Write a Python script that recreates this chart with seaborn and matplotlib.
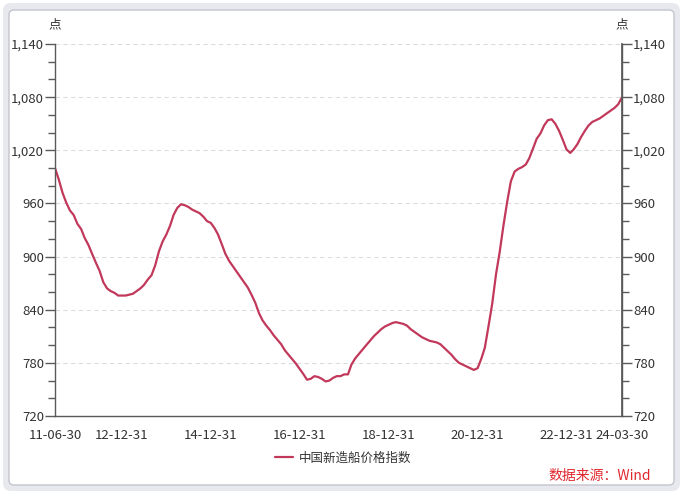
import matplotlib.pyplot as plt
import matplotlib.dates as mdates
import matplotlib.transforms as mtransforms
from matplotlib.patches import FancyBboxPatch
from matplotlib.ticker import FixedLocator, FuncFormatter, MultipleLocator
import seaborn as sns
import pandas as pd

# monthly points, 2011-06 .. 2024-03
months = pd.date_range('2011-06-30', '2024-03-31', freq='ME')
price_index = [
    1000, 987, 972, 961, 952, 947, 937, 931, 921, 913, 903, 893,   # 11-06 .. 12-05
    884, 871, 864, 861, 859, 856, 856, 856, 857, 858, 861, 864,    # 12-06 .. 13-05
    868, 874, 879, 890, 906, 917, 925, 935, 947, 955, 959, 958,    # 13-06 .. 14-05
    956, 953, 951, 949, 945, 940, 938, 932, 925, 914, 903, 895,    # 14-06 .. 15-05
    889, 883, 877, 871, 865, 857, 848, 836, 828, 822, 817, 811,    # 15-06 .. 16-05
    806, 801, 794, 789, 784, 779, 773, 767, 761, 762, 765, 764,    # 16-06 .. 17-05
    762, 759, 760, 763, 765, 765, 767, 767, 778, 785, 790, 795,    # 17-06 .. 18-05
    800, 805, 810, 814, 818, 821, 823, 825, 826, 825, 824, 822,    # 18-06 .. 19-05
    818, 815, 812, 809, 807, 805, 804, 803, 801, 797, 793, 789,    # 19-06 .. 20-05
    784, 780, 778, 776, 774, 772, 774, 785, 797, 822, 847, 880,    # 20-06 .. 21-05
    905, 935, 962, 985, 996, 999, 1001, 1004, 1011, 1022, 1033, 1039,  # 21-06 .. 22-05
    1048, 1054, 1055, 1050, 1042, 1032, 1021, 1017, 1021, 1027, 1035, 1042,  # 22-06 .. 23-05
    1048, 1052, 1054, 1056, 1059, 1062, 1065, 1068, 1072, 1080,   # 23-06 .. 24-03
]
series_name = '中国新造船价格指数'

label_dates = ['2011-06-30', '2012-12-31', '2014-12-31', '2016-12-31',
               '2018-12-31', '2020-12-31', '2022-12-31', '2024-03-31']
label_text = ['11-06-30', '12-12-31', '14-12-31', '16-12-31',
              '18-12-31', '20-12-31', '22-12-31', '24-03-30']

y_min, y_max, y_step = 720, 1140, 60

line_color = '#c1385a'
axis_color = '#5a5a5a'
text_color = '#333333'

sns.set_theme(style='white')
plt.rcParams['font.family'] = ['Noto Sans CJK SC', 'DejaVu Sans']

W, H = 683, 494
fig = plt.figure(figsize=(W / 100, H / 100), dpi=100)
fig.patch.set_facecolor('white')

# outer grey frame + white card (pixel coords)
px = mtransforms.IdentityTransform()
fig.patches.append(FancyBboxPatch((3, 3), W - 6, H - 6,
                                  boxstyle='round,pad=0,rounding_size=8',
                                  transform=px, facecolor='#e8e9ee', edgecolor='none', zorder=-20))
fig.patches.append(FancyBboxPatch((9, 9), W - 18, H - 19,
                                  boxstyle='round,pad=0,rounding_size=5',
                                  transform=px, facecolor='white', edgecolor='#c3c5cd',
                                  linewidth=1, zorder=-10))

ax = fig.add_axes([55 / W, 78 / H, 567 / W, 372 / H])
ax.patch.set_alpha(0)

sns.lineplot(x=months, y=price_index, ax=ax, color=line_color, linewidth=1.6,
             label=series_name, legend=False)

ax.set_xlim(months[0], months[-1])
ax.set_ylim(y_min, y_max)
ax.set_xlabel('')
ax.set_ylabel('')

# y axis
yfmt = FuncFormatter(lambda v, p: f'{int(v):,}')
ax.yaxis.set_major_locator(MultipleLocator(y_step))
ax.yaxis.set_minor_locator(MultipleLocator(20))
ax.yaxis.set_major_formatter(yfmt)
ax.yaxis.grid(True, which='major', linestyle=(0, (4, 3)), color='#dcdcdc', linewidth=0.8)
ax.set_axisbelow(True)

# x axis: year ends major, quarter ends minor
year_ends = pd.date_range('2011-12-31', '2023-12-31', freq='YE')
major_dates = [pd.Timestamp('2011-06-30')] + list(year_ends) + [months[-1]]
major_labels = []
for d in major_dates:
    key = d.strftime('%Y-%m-%d')
    major_labels.append(label_text[label_dates.index(key)] if key in label_dates else '')
ax.xaxis.set_major_locator(FixedLocator(mdates.date2num(major_dates)))
ax.set_xticklabels(major_labels)
quarters = pd.date_range('2011-09-30', '2023-12-31', freq='QE')
ax.xaxis.set_minor_locator(FixedLocator(mdates.date2num(quarters)))

for s in ['top']:
    ax.spines[s].set_visible(False)
for s in ['left', 'right', 'bottom']:
    ax.spines[s].set_color(axis_color)
    ax.spines[s].set_linewidth(1)

ax.tick_params(axis='y', which='major', direction='out', length=7, width=1,
               color=axis_color, labelsize=9.5, labelcolor=text_color, pad=1)
ax.tick_params(axis='y', which='minor', direction='out', length=5, width=1, color=axis_color)
ax.tick_params(axis='x', which='major', direction='out', length=6, width=1,
               color=axis_color, labelsize=9.5, labelcolor=text_color, pad=3)
ax.tick_params(axis='x', which='minor', direction='out', length=4, width=1, color=axis_color)

# right axis mirrors left
ax2 = ax.twinx()
ax2.set_ylim(y_min, y_max)
ax2.yaxis.set_major_locator(MultipleLocator(y_step))
ax2.yaxis.set_minor_locator(MultipleLocator(20))
ax2.yaxis.set_major_formatter(yfmt)
for s in ['top', 'left', 'bottom']:
    ax2.spines[s].set_visible(False)
ax2.spines['right'].set_color(axis_color)
ax2.tick_params(axis='y', which='major', direction='out', length=7, width=1,
                color=axis_color, labelsize=9.5, labelcolor=text_color, pad=1)
ax2.tick_params(axis='y', which='minor', direction='out', length=5, width=1, color=axis_color)

# unit labels
fig.text(55 / W, 1 - 25 / H, '点', ha='center', va='center', fontsize=9, color=text_color)
fig.text(622 / W, 1 - 25 / H, '点', ha='center', va='center', fontsize=9, color=text_color)

# legend
handles, labels = ax.get_legend_handles_labels()
fig.legend(handles, labels, loc='center', bbox_to_anchor=(343 / W, 1 - 458 / H),
           frameon=False, fontsize=9, handlelength=1.45, handletextpad=0.5,
           labelcolor=text_color)

# source note
fig.text(651 / W, 1 - 476 / H, '数据来源：Wind', ha='right', va='center',
         fontsize=10, color='#e0282e')

fig.savefig('out.png', dpi=100)
